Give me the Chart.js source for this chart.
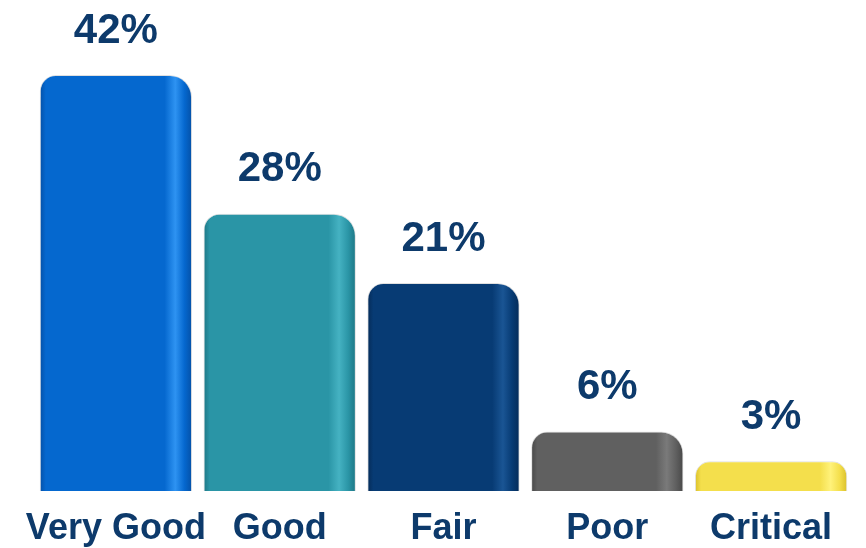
<!DOCTYPE html>
<html>
<head>
    <title>Condition rating</title>
    <script src="https://cdn.jsdelivr.net/npm/chart.js"></script>
    <style>
        body { margin: 0; background: #ffffff; }
        .chart-box { width: 866px; height: 548px; }
    </style>
</head>
<body>
    <div class="chart-box"><canvas id="ratingChart"></canvas></div>

    <script>
        const categories = ["Very Good", "Good", "Fair", "Poor", "Critical"];
        const percentValues = [42, 28, 21, 6, 3];

        // base, highlight, edge shade for each bar
        const barColors = [
            ["#0568CF", "#2E93F2", "#0450A6"],
            ["#2A95A6", "#45B2C2", "#1E7684"],
            ["#073B74", "#1A5594", "#052B57"],
            ["#606060", "#7A7A7A", "#474747"],
            ["#F4DF4C", "#FFF27A", "#D9BF2A"]
        ];
        const labelColor = "#0D3A6B";
        const fontFamily = "'Liberation Sans', Arial, sans-serif";
        const barPct = 0.93;

        function barFill(context) {
            const chart = context.chart;
            const i = context.dataIndex;
            const c = barColors[i];
            if (!chart.chartArea || !chart.scales.x) return c[0];
            const xs = chart.scales.x;
            const center = xs.getPixelForValue(i);
            const w = (xs.width / categories.length) * barPct;
            const g = chart.ctx.createLinearGradient(center - w / 2, 0, center + w / 2, 0);
            g.addColorStop(0, c[2]);
            g.addColorStop(0.04, c[0]);
            g.addColorStop(0.82, c[0]);
            g.addColorStop(0.89, c[1]);
            g.addColorStop(0.95, c[0]);
            g.addColorStop(1, c[2]);
            return g;
        }

        const valueLabels = {
            id: "valueLabels",
            afterDatasetsDraw(chart) {
                const ctx = chart.ctx;
                const meta = chart.getDatasetMeta(0);
                ctx.save();
                ctx.fillStyle = labelColor;
                ctx.font = "bold 42px " + fontFamily;
                ctx.textAlign = "center";
                ctx.textBaseline = "middle";
                meta.data.forEach((bar, i) => {
                    ctx.fillText(percentValues[i] + "%", bar.x, bar.y - 44);
                });
                ctx.restore();
            }
        };

        new Chart(document.getElementById("ratingChart"), {
            type: "bar",
            data: {
                labels: categories,
                datasets: [{
                    data: percentValues,
                    backgroundColor: barFill,
                    borderColor: "rgba(0,0,0,0.12)",
                    borderWidth: 1,
                    borderSkipped: "bottom",
                    borderRadius: { topLeft: 16, topRight: 22, bottomLeft: 3, bottomRight: 3 },
                    barPercentage: barPct,
                    categoryPercentage: 1
                }]
            },
            options: {
                responsive: true,
                maintainAspectRatio: false,
                animation: false,
                layout: { padding: { top: 75, left: 34, right: 13, bottom: -19 } },
                plugins: {
                    legend: { display: false },
                    tooltip: { enabled: false }
                },
                scales: {
                    x: {
                        grid: { display: false, drawTicks: false },
                        border: { display: false },
                        ticks: {
                            color: labelColor,
                            padding: 20,
                            autoSkip: false,
                            minRotation: 0,
                            maxRotation: 0,
                            font: { family: fontFamily, size: 36, weight: "bold", lineHeight: 1 }
                        }
                    },
                    y: {
                        display: false,
                        min: 0,
                        max: 42
                    }
                }
            },
            plugins: [valueLabels]
        });
    </script>
</body>
</html>
